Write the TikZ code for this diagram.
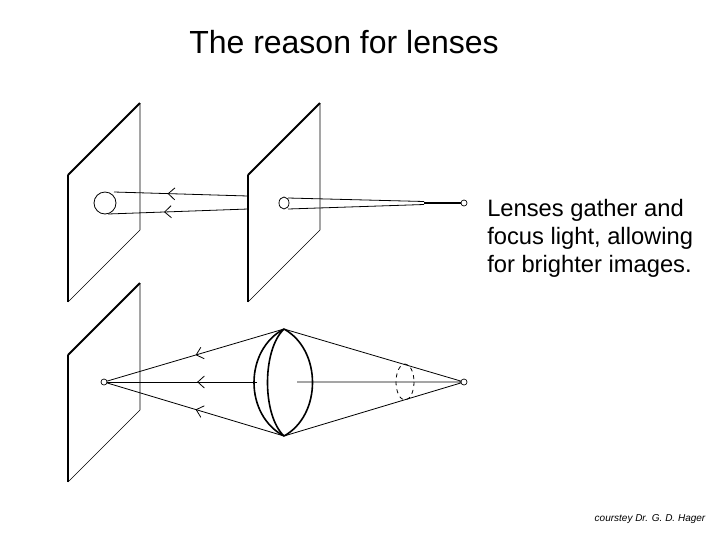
\documentclass[tikz,border=0pt]{standalone}
\usepackage{fontspec}
\setmainfont{Liberation Sans}
\usetikzlibrary{decorations.markings,arrows.meta}
\tikzset{
  ray/.style={line width=0.6pt},
  rayarrow/.style={ray,postaction={decorate},decoration={markings,
      mark=at position #1 with {\arrow{Straight Barb[length=5pt,width=9pt]}}}},
  panel/.style={line width=0.5pt},
  dot/.style={circle,draw,inner sep=1.6pt,line width=0.5pt}
}
\begin{document}
\begin{tikzpicture}[x=0.75pt,y=-0.75pt]
  \useasboundingbox (0,0) rectangle (720,540);
  % PANELS
  \foreach \px/\py/\nm in {68/175/pa,248/175/pb,68/355/pc}{
    \draw[line width=1.5pt] (\px,\py) -- (\px+72,\py-72);
    \draw[panel] (\px+72,\py-72) -- (\px+72,\py+55) -- (\px,\py+127);
    \draw[line width=1.2pt] (\px,\py) -- (\px,\py+127);
  }
  % PINHOLE
  \node[dot] (src1) at (464,203) {};
  \coordinate (m1) at (424,203);
  \draw[line width=1.2pt] (m1) -- (src1);
  \draw[ray] (284,203) ellipse (5 and 6);
  \draw[ray] (288,198) -- (424,201.5);
  \draw[ray] (288,209) -- (424,204.5);
  \draw[ray] (105,203) ellipse (11 and 11);
  \draw[rayarrow=0.6] (248,196) -- (114,192);
  \draw[rayarrow=0.6] (248,209) -- (108,214);
  % LENS
  \node[dot] (src2) at (464,382) {};
  \node[dot] (img2) at (104,382) {};
  \coordinate (lt) at (284,329);
  \coordinate (lb) at (284,436);
  \draw[ray] (src2) -- (lt) (src2) -- (lb) (src2) -- (297,382);
  \draw[rayarrow=0.5] (lt) -- (img2);
  \draw[rayarrow=0.5] (lb) -- (img2);
  \draw[rayarrow=0.4] (257,382) -- (img2);
  \draw[line width=1.2pt] (lt) .. controls (322,350) and (322,415) .. (lb);
  \draw[line width=1.2pt] (lt) .. controls (262,350) and (262,415) .. (lb);
  \draw[line width=1.2pt] (lt) .. controls (244,350) and (244,415) .. (lb);
  \draw[dashed,ray] (405,382) ellipse (9 and 18);
  % TEXT
  \node[font=\fontsize{24}{28}\selectfont] (title) at (344,42) {The reason for lenses};
  \node[anchor=north west,align=left,inner sep=0pt,font=\fontsize{17.8}{21}\selectfont]
    (txt) at (487,199) {Lenses gather and\\focus light, allowing\\for brighter images.};
  \node[font=\fontsize{7.5}{9}\selectfont\itshape] (credit) at (650,519) {courstey Dr. G. D. Hager};
\end{tikzpicture}
\end{document}
